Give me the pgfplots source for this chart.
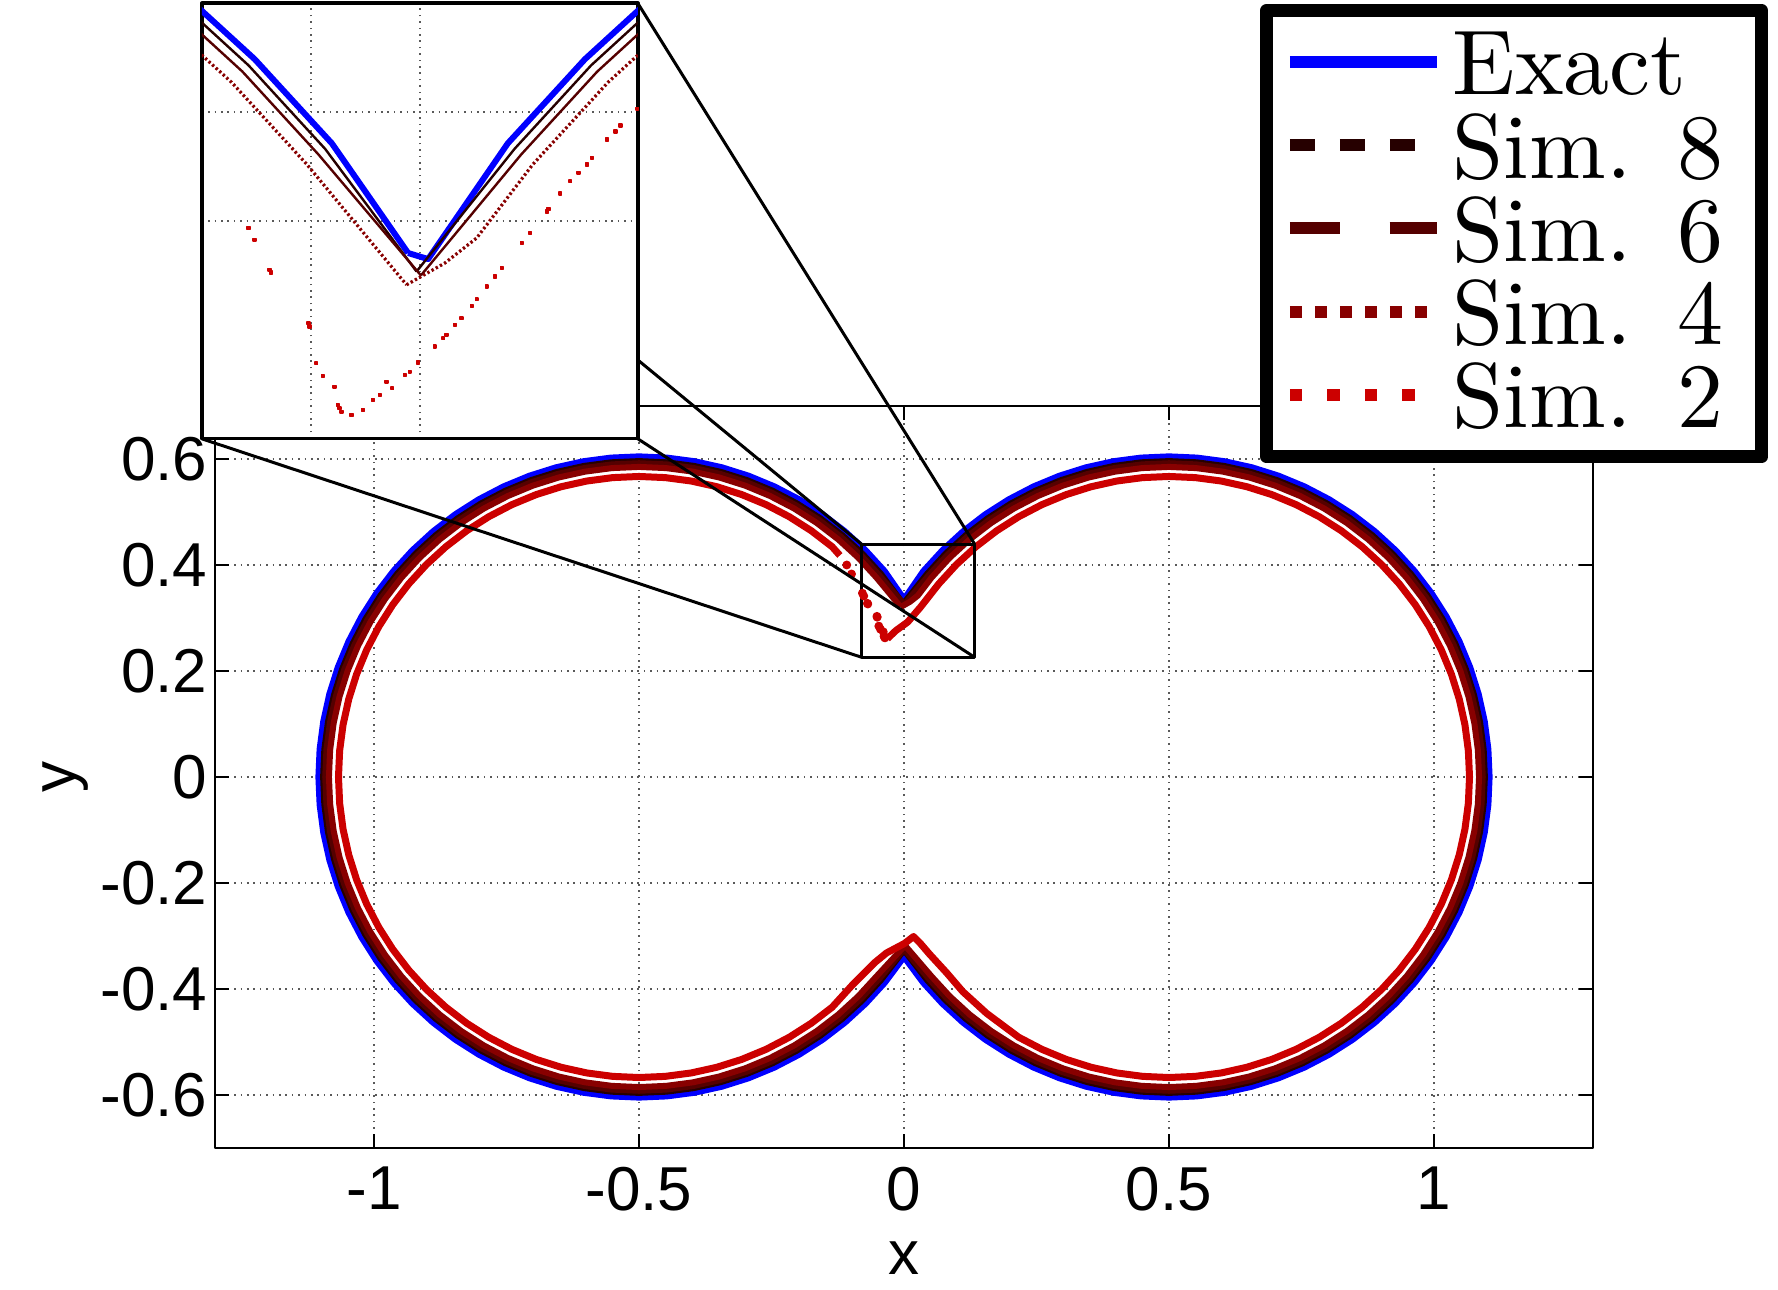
\documentclass[border=0pt]{standalone}
\usepackage{fontspec}
\setsansfont{Liberation Sans}
\newfontfamily\lmten{lmroman10-regular.otf}
\usepackage{pgfplots}
\usepackage{pgfplotstable}
\pgfplotsset{compat=1.18}
\definecolor{cEx}{RGB}{0,0,255}
\definecolor{cS8}{RGB}{38,0,0}
\definecolor{cS6}{RGB}{85,0,0}
\definecolor{cS4}{RGB}{136,0,0}
\definecolor{cS2}{RGB}{204,0,0}
\newcommand{\tlfont}{\sffamily\fontsize{15.5}{15.5}\selectfont}
\newcommand{\lgfont}{\lmten\fontsize{23}{23}\selectfont}

\pgfplotstableread[row sep=\\]{x y\\
-0.0054 0.3353\\ 0.0038 0.3325\\
0.04038 0.38567\\ 0.07573 0.42427\\ 0.11433 0.45962\\ 0.15585 0.49149\\ 0.2 0.51962\\ 0.24643 0.54379\\ 0.29479 0.56381\\ 0.34471 0.57956\\ 0.39581 0.59089\\ 0.44770 0.59771\\ 0.5 0.6\\ 0.55230 0.59771\\ 0.60419 0.59089\\ 0.65529 0.57956\\ 0.70521 0.56381\\ 0.75357 0.54379\\ 0.8 0.51962\\ 0.84415 0.49149\\ 0.88567 0.45962\\ 0.92427 0.42427\\ 0.95962 0.38567\\ 0.99149 0.34415\\ 1.01962 0.3\\ 1.04379 0.25357\\ 1.06381 0.20521\\ 1.07956 0.15529\\ 1.09089 0.10419\\ 1.09771 0.05230\\ 1.1 0\\
1.09771 -0.05230\\ 1.09089 -0.10419\\ 1.07956 -0.15529\\ 1.06381 -0.20521\\ 1.04379 -0.25357\\ 1.01962 -0.3\\ 0.99149 -0.34415\\ 0.95962 -0.38567\\ 0.92427 -0.42427\\ 0.88567 -0.45962\\ 0.84415 -0.49149\\ 0.8 -0.51962\\ 0.75357 -0.54379\\ 0.70521 -0.56381\\ 0.65529 -0.57956\\ 0.60419 -0.59089\\ 0.55230 -0.59771\\ 0.5 -0.6\\ 0.44770 -0.59771\\ 0.39581 -0.59089\\ 0.34471 -0.57956\\ 0.29479 -0.56381\\ 0.24643 -0.54379\\ 0.2 -0.51962\\ 0.15585 -0.49149\\ 0.11433 -0.45962\\ 0.07573 -0.42427\\ 0.04038 -0.38567\\
0 -0.33166\\
-0.04038 -0.38567\\ -0.07573 -0.42427\\ -0.11433 -0.45962\\ -0.15585 -0.49149\\ -0.2 -0.51962\\ -0.24643 -0.54379\\ -0.29479 -0.56381\\ -0.34471 -0.57956\\ -0.39581 -0.59089\\ -0.44770 -0.59771\\ -0.5 -0.6\\ -0.55230 -0.59771\\ -0.60419 -0.59089\\ -0.65529 -0.57956\\ -0.70521 -0.56381\\ -0.75357 -0.54379\\ -0.8 -0.51962\\ -0.84415 -0.49149\\ -0.88567 -0.45962\\ -0.92427 -0.42427\\ -0.95962 -0.38567\\ -0.99149 -0.34415\\ -1.01962 -0.3\\ -1.04379 -0.25357\\ -1.06381 -0.20521\\ -1.07956 -0.15529\\ -1.09089 -0.10419\\ -1.09771 -0.05230\\ -1.1 0\\
-1.09771 0.05230\\ -1.09089 0.10419\\ -1.07956 0.15529\\ -1.06381 0.20521\\ -1.04379 0.25357\\ -1.01962 0.3\\ -0.99149 0.34415\\ -0.95962 0.38567\\ -0.92427 0.42427\\ -0.88567 0.45962\\ -0.84415 0.49149\\ -0.8 0.51962\\ -0.75357 0.54379\\ -0.70521 0.56381\\ -0.65529 0.57956\\ -0.60419 0.59089\\ -0.55230 0.59771\\ -0.5 0.6\\ -0.44770 0.59771\\ -0.39581 0.59089\\ -0.34471 0.57956\\ -0.29479 0.56381\\ -0.24643 0.54379\\ -0.2 0.51962\\ -0.15585 0.49149\\ -0.11433 0.45962\\ -0.07573 0.42427\\ -0.04038 0.38567\\ -0.0054 0.3353\\
}\tabExact

\pgfplotstableread[row sep=\\]{x y\\
-0.0015 0.3268\\
0.04344 0.38310\\ 0.07856 0.42144\\ 0.11690 0.45656\\ 0.15815 0.48821\\ 0.202 0.51615\\ 0.24812 0.54016\\ 0.29616 0.56006\\ 0.34574 0.57569\\ 0.39650 0.58695\\ 0.44805 0.59373\\ 0.5 0.596\\ 0.55195 0.59373\\ 0.60350 0.58695\\ 0.65426 0.57569\\ 0.70384 0.56006\\ 0.75188 0.54016\\ 0.798 0.51615\\ 0.84185 0.48821\\ 0.88310 0.45656\\ 0.92144 0.42144\\ 0.95656 0.38310\\ 0.98821 0.34185\\ 1.01615 0.298\\ 1.04016 0.25188\\ 1.06006 0.20384\\ 1.07569 0.15426\\ 1.08695 0.10350\\ 1.09373 0.05195\\ 1.096 0\\
1.09373 -0.05195\\ 1.08695 -0.10350\\ 1.07569 -0.15426\\ 1.06006 -0.20384\\ 1.04016 -0.25188\\ 1.01615 -0.298\\ 0.98821 -0.34185\\ 0.95656 -0.38310\\ 0.92144 -0.42144\\ 0.88310 -0.45656\\ 0.84185 -0.48821\\ 0.798 -0.51615\\ 0.75188 -0.54016\\ 0.70384 -0.56006\\ 0.65426 -0.57569\\ 0.60350 -0.58695\\ 0.55195 -0.59373\\ 0.5 -0.596\\ 0.44805 -0.59373\\ 0.39650 -0.58695\\ 0.34574 -0.57569\\ 0.29616 -0.56006\\ 0.24812 -0.54016\\ 0.202 -0.51615\\ 0.15815 -0.48821\\ 0.11690 -0.45656\\ 0.07856 -0.42144\\ 0.04344 -0.38310\\
0 -0.3268\\
-0.04344 -0.38310\\ -0.07856 -0.42144\\ -0.11690 -0.45656\\ -0.15815 -0.48821\\ -0.202 -0.51615\\ -0.24812 -0.54016\\ -0.29616 -0.56006\\ -0.34574 -0.57569\\ -0.39650 -0.58695\\ -0.44805 -0.59373\\ -0.5 -0.596\\ -0.55195 -0.59373\\ -0.60350 -0.58695\\ -0.65426 -0.57569\\ -0.70384 -0.56006\\ -0.75188 -0.54016\\ -0.798 -0.51615\\ -0.84185 -0.48821\\ -0.88310 -0.45656\\ -0.92144 -0.42144\\ -0.95656 -0.38310\\ -0.98821 -0.34185\\ -1.01615 -0.298\\ -1.04016 -0.25188\\ -1.06006 -0.20384\\ -1.07569 -0.15426\\ -1.08695 -0.10350\\ -1.09373 -0.05195\\ -1.096 0\\
-1.09373 0.05195\\ -1.08695 0.10350\\ -1.07569 0.15426\\ -1.06006 0.20384\\ -1.04016 0.25188\\ -1.01615 0.298\\ -0.98821 0.34185\\ -0.95656 0.38310\\ -0.92144 0.42144\\ -0.88310 0.45656\\ -0.84185 0.48821\\ -0.798 0.51615\\ -0.75188 0.54016\\ -0.70384 0.56006\\ -0.65426 0.57569\\ -0.60350 0.58695\\ -0.55195 0.59373\\ -0.5 0.596\\ -0.44805 0.59373\\ -0.39650 0.58695\\ -0.34574 0.57569\\ -0.29616 0.56006\\ -0.24812 0.54016\\ -0.202 0.51615\\ -0.15815 0.48821\\ -0.11690 0.45656\\ -0.07856 0.42144\\ -0.04344 0.38310\\ -0.0015 0.3268\\
}\tabSimEight

\pgfplotstableread[row sep=\\]{x y\\
0.0005 0.325\\
0.04650 0.38053\\ 0.08139 0.41861\\ 0.11947 0.45350\\ 0.16044 0.48494\\ 0.204 0.51269\\ 0.24981 0.53654\\ 0.29752 0.55630\\ 0.34678 0.57183\\ 0.39720 0.58301\\ 0.44840 0.58974\\ 0.5 0.592\\ 0.55160 0.58974\\ 0.60280 0.58301\\ 0.65322 0.57183\\ 0.70248 0.55630\\ 0.75019 0.53654\\ 0.796 0.51269\\ 0.83956 0.48494\\ 0.88053 0.45350\\ 0.91861 0.41861\\ 0.95350 0.38053\\ 0.98494 0.33956\\ 1.01269 0.296\\ 1.03654 0.25019\\ 1.05630 0.20248\\ 1.07183 0.15322\\ 1.08301 0.10280\\ 1.08974 0.05160\\ 1.092 0\\
1.08974 -0.05160\\ 1.08301 -0.10280\\ 1.07183 -0.15322\\ 1.05630 -0.20248\\ 1.03654 -0.25019\\ 1.01269 -0.296\\ 0.98494 -0.33956\\ 0.95350 -0.38053\\ 0.91861 -0.41861\\ 0.88053 -0.45350\\ 0.83956 -0.48494\\ 0.796 -0.51269\\ 0.75019 -0.53654\\ 0.70248 -0.55630\\ 0.65322 -0.57183\\ 0.60280 -0.58301\\ 0.55160 -0.58974\\ 0.5 -0.592\\ 0.44840 -0.58974\\ 0.39720 -0.58301\\ 0.34678 -0.57183\\ 0.29752 -0.55630\\ 0.24981 -0.53654\\ 0.204 -0.51269\\ 0.16044 -0.48494\\ 0.11947 -0.45350\\ 0.08139 -0.41861\\ 0.04650 -0.38053\\
0 -0.325\\
-0.04650 -0.38053\\ -0.08139 -0.41861\\ -0.11947 -0.45350\\ -0.16044 -0.48494\\ -0.204 -0.51269\\ -0.24981 -0.53654\\ -0.29752 -0.55630\\ -0.34678 -0.57183\\ -0.39720 -0.58301\\ -0.44840 -0.58974\\ -0.5 -0.592\\ -0.55160 -0.58974\\ -0.60280 -0.58301\\ -0.65322 -0.57183\\ -0.70248 -0.55630\\ -0.75019 -0.53654\\ -0.796 -0.51269\\ -0.83956 -0.48494\\ -0.88053 -0.45350\\ -0.91861 -0.41861\\ -0.95350 -0.38053\\ -0.98494 -0.33956\\ -1.01269 -0.296\\ -1.03654 -0.25019\\ -1.05630 -0.20248\\ -1.07183 -0.15322\\ -1.08301 -0.10280\\ -1.08974 -0.05160\\ -1.092 0\\
-1.08974 0.05160\\ -1.08301 0.10280\\ -1.07183 0.15322\\ -1.05630 0.20248\\ -1.03654 0.25019\\ -1.01269 0.296\\ -0.98494 0.33956\\ -0.95350 0.38053\\ -0.91861 0.41861\\ -0.88053 0.45350\\ -0.83956 0.48494\\ -0.796 0.51269\\ -0.75019 0.53654\\ -0.70248 0.55630\\ -0.65322 0.57183\\ -0.60280 0.58301\\ -0.55160 0.58974\\ -0.5 0.592\\ -0.44840 0.58974\\ -0.39720 0.58301\\ -0.34678 0.57183\\ -0.29752 0.55630\\ -0.24981 0.53654\\ -0.204 0.51269\\ -0.16044 0.48494\\ -0.11947 0.45350\\ -0.08139 0.41861\\ -0.04650 0.38053\\ 0.0005 0.325\\
}\tabSimSix

\pgfplotstableread[row sep=\\]{x y\\
-0.0061 0.3207\\ 0.0115 0.3307\\ 0.0261 0.3422\\
0.05187 0.37603\\ 0.08634 0.41366\\ 0.12397 0.44813\\ 0.16446 0.47920\\ 0.2075 0.50663\\ 0.25277 0.53019\\ 0.29992 0.54972\\ 0.34859 0.56507\\ 0.39841 0.57611\\ 0.44901 0.58277\\ 0.5 0.585\\ 0.55099 0.58277\\ 0.60159 0.57611\\ 0.65141 0.56507\\ 0.70008 0.54972\\ 0.74723 0.53019\\ 0.7925 0.50663\\ 0.83554 0.47920\\ 0.87603 0.44813\\ 0.91366 0.41366\\ 0.94813 0.37603\\ 0.97920 0.33554\\ 1.00663 0.2925\\ 1.03019 0.24723\\ 1.04972 0.20008\\ 1.06507 0.15141\\ 1.07611 0.10159\\ 1.08277 0.05099\\ 1.085 0\\
1.08277 -0.05099\\ 1.07611 -0.10159\\ 1.06507 -0.15141\\ 1.04972 -0.20008\\ 1.03019 -0.24723\\ 1.00663 -0.2925\\ 0.97920 -0.33554\\ 0.94813 -0.37603\\ 0.91366 -0.41366\\ 0.87603 -0.44813\\ 0.83554 -0.47920\\ 0.7925 -0.50663\\ 0.74723 -0.53019\\ 0.70008 -0.54972\\ 0.65141 -0.56507\\ 0.60159 -0.57611\\ 0.55099 -0.58277\\ 0.5 -0.585\\ 0.44901 -0.58277\\ 0.39841 -0.57611\\ 0.34859 -0.56507\\ 0.29992 -0.54972\\ 0.25277 -0.53019\\ 0.2075 -0.50663\\ 0.16446 -0.47920\\ 0.12397 -0.44813\\ 0.08634 -0.41366\\ 0.05187 -0.37603\\
0.002 -0.318\\
-0.05187 -0.37603\\ -0.08634 -0.41366\\ -0.12397 -0.44813\\ -0.16446 -0.47920\\ -0.2075 -0.50663\\ -0.25277 -0.53019\\ -0.29992 -0.54972\\ -0.34859 -0.56507\\ -0.39841 -0.57611\\ -0.44901 -0.58277\\ -0.5 -0.585\\ -0.55099 -0.58277\\ -0.60159 -0.57611\\ -0.65141 -0.56507\\ -0.70008 -0.54972\\ -0.74723 -0.53019\\ -0.7925 -0.50663\\ -0.83554 -0.47920\\ -0.87603 -0.44813\\ -0.91366 -0.41366\\ -0.94813 -0.37603\\ -0.97920 -0.33554\\ -1.00663 -0.2925\\ -1.03019 -0.24723\\ -1.04972 -0.20008\\ -1.06507 -0.15141\\ -1.07611 -0.10159\\ -1.08277 -0.05099\\ -1.085 0\\
-1.08277 0.05099\\ -1.07611 0.10159\\ -1.06507 0.15141\\ -1.04972 0.20008\\ -1.03019 0.24723\\ -1.00663 0.2925\\ -0.97920 0.33554\\ -0.94813 0.37603\\ -0.91366 0.41366\\ -0.87603 0.44813\\ -0.83554 0.47920\\ -0.7925 0.50663\\ -0.74723 0.53019\\ -0.70008 0.54972\\ -0.65141 0.56507\\ -0.60159 0.57611\\ -0.55099 0.58277\\ -0.5 0.585\\ -0.44901 0.58277\\ -0.39841 0.57611\\ -0.34859 0.56507\\ -0.29992 0.54972\\ -0.25277 0.53019\\ -0.2075 0.50663\\ -0.16446 0.47920\\ -0.12397 0.44813\\ -0.08634 0.41366\\ -0.05187 0.37603\\ -0.0061 0.3207\\
}\tabSimFour

\pgfplotstableread[row sep=\\]{x y\\
-0.0314 0.2609\\ -0.0153 0.2762\\ 0.0069 0.2923\\ 0.0307 0.3199\\
0.06566 0.36446\\ 0.09907 0.40093\\ 0.13554 0.43434\\ 0.17478 0.46446\\ 0.2165 0.49104\\ 0.26037 0.51388\\ 0.30607 0.53280\\ 0.35325 0.54768\\ 0.40154 0.55839\\ 0.45058 0.56484\\ 0.5 0.567\\ 0.54942 0.56484\\ 0.59846 0.55839\\ 0.64675 0.54768\\ 0.69393 0.53280\\ 0.73963 0.51388\\ 0.7835 0.49104\\ 0.82522 0.46446\\ 0.86446 0.43434\\ 0.90093 0.40093\\ 0.93434 0.36446\\ 0.96446 0.32522\\ 0.99104 0.2835\\ 1.01388 0.23963\\ 1.0328 0.19393\\ 1.04768 0.14675\\ 1.05839 0.09846\\ 1.06484 0.04942\\ 1.067 0\\
1.06484 -0.04942\\ 1.05839 -0.09846\\ 1.04768 -0.14675\\ 1.0328 -0.19393\\ 1.01388 -0.23963\\ 0.99104 -0.2835\\ 0.96446 -0.32522\\ 0.93434 -0.36446\\ 0.90093 -0.40093\\ 0.86446 -0.43434\\ 0.82522 -0.46446\\ 0.7835 -0.49104\\ 0.73963 -0.51388\\ 0.69393 -0.53280\\ 0.64675 -0.54768\\ 0.59846 -0.55839\\ 0.54942 -0.56484\\ 0.5 -0.567\\ 0.45058 -0.56484\\ 0.40154 -0.55839\\ 0.35325 -0.54768\\ 0.30607 -0.53280\\ 0.26037 -0.51388\\ 0.2165 -0.49104\\
0.156 -0.446\\ 0.111 -0.405\\ 0.081 -0.370\\ 0.048 -0.334\\ 0.030 -0.313\\ 0.018 -0.301\\ 0.001 -0.314\\ -0.033 -0.332\\ -0.055 -0.350\\ -0.097 -0.392\\
-0.13554 -0.43434\\ -0.17478 -0.46446\\ -0.2165 -0.49104\\ -0.26037 -0.51388\\ -0.30607 -0.53280\\ -0.35325 -0.54768\\ -0.40154 -0.55839\\ -0.45058 -0.56484\\ -0.5 -0.567\\ -0.54942 -0.56484\\ -0.59846 -0.55839\\ -0.64675 -0.54768\\ -0.69393 -0.53280\\ -0.73963 -0.51388\\ -0.7835 -0.49104\\ -0.82522 -0.46446\\ -0.86446 -0.43434\\ -0.90093 -0.40093\\ -0.93434 -0.36446\\ -0.96446 -0.32522\\ -0.99104 -0.2835\\ -1.01388 -0.23963\\ -1.0328 -0.19393\\ -1.04768 -0.14675\\ -1.05839 -0.09846\\ -1.06484 -0.04942\\ -1.067 0\\
-1.06484 0.04942\\ -1.05839 0.09846\\ -1.04768 0.14675\\ -1.0328 0.19393\\ -1.01388 0.23963\\ -0.99104 0.2835\\ -0.96446 0.32522\\ -0.93434 0.36446\\ -0.90093 0.40093\\ -0.86446 0.43434\\ -0.82522 0.46446\\ -0.7835 0.49104\\ -0.73963 0.51388\\ -0.69393 0.53280\\ -0.64675 0.54768\\ -0.59846 0.55839\\ -0.54942 0.56484\\ -0.5 0.567\\ -0.45058 0.56484\\ -0.40154 0.55839\\ -0.35325 0.54768\\ -0.30607 0.53280\\ -0.26037 0.51388\\ -0.2165 0.49104\\ -0.17478 0.46446\\ -0.13554 0.43434\\ -0.121 0.418\\
}\tabSimTwo

\pgfplotstableread[row sep=\\]{x y\\
-0.108 0.400\\ -0.099 0.383\\ -0.0785 0.3468\\ -0.0759 0.3414\\ -0.0690 0.3276\\ -0.0683 0.3264\\ -0.0511 0.3031\\ -0.0506 0.3015\\ -0.0475 0.2847\\ -0.0445 0.2788\\ -0.0391 0.2739\\ -0.0376 0.2655\\ -0.0368 0.2640\\ -0.0360 0.2624\\
}\tabSimTwoDots

\pgfplotstableread[row sep=\\]{x y\\
-0.0785 0.3468\\ -0.0759 0.3414\\ -0.0690 0.3276\\ -0.0683 0.3264\\ -0.0511 0.3031\\ -0.0506 0.3015\\ -0.0475 0.2847\\ -0.0445 0.2788\\ -0.0391 0.2739\\ -0.0376 0.2655\\ -0.0368 0.2640\\ -0.0360 0.2624\\ -0.0314 0.2609\\ -0.0261 0.2632\\ -0.0215 0.2678\\ -0.0184 0.2701\\ -0.0153 0.2762\\ -0.0127 0.2732\\ -0.0069 0.2793\\ -0.0046 0.2808\\ -0.0008 0.2850\\ 0.0069 0.2923\\ 0.0107 0.2962\\ 0.0123 0.2977\\ 0.0161 0.3023\\ 0.0192 0.3054\\ 0.0238 0.3110\\ 0.0261 0.3141\\ 0.0307 0.3199\\ 0.0345 0.3245\\ 0.0376 0.3284\\ 0.0468 0.3399\\ 0.0506 0.3445\\ 0.0583 0.3544\\ 0.0590 0.3555\\ 0.0644 0.3626\\ 0.0690 0.3683\\ 0.0728 0.3721\\ 0.0767 0.3759\\ 0.0790 0.3790\\ 0.0859 0.3874\\ 0.0897 0.3910\\ 0.0920 0.3939\\ 0.0997 0.4015\\
}\tabSimTwoZoom

\begin{document}
\begin{tikzpicture}
\begin{axis}[
  name=main,
  scale only axis, width=344.5pt, height=185.5pt,
  xmin=-1.3, xmax=1.3, ymin=-0.7, ymax=0.7,
  xtick={-1,-0.5,0,0.5,1}, xticklabels={-1,-0.5,0,0.5,1},
  ytick={-0.6,-0.4,-0.2,0,0.2,0.4,0.6},
  yticklabels={-0.6,-0.4,-0.2,0,0.2,0.4,0.6},
  tick label style={font=\tlfont},
  yticklabel style={xshift=1.6pt},
  xticklabel style={yshift=-1.2pt},
  grid=major,
  grid style={gray!70!black, line width=0.4pt, dash pattern=on 0.4pt off 1.2pt},
  major tick length=3.5pt,
  tick style={black, line width=0.5pt},
  axis line style={line width=0.5pt},
  xlabel={x}, ylabel={y},
  every axis x label/.style={at={(axis description cs:0.5,0)}, anchor=base, yshift=-31.5pt, font=\tlfont},
  every axis y label/.style={at={(axis description cs:-0.10087,0.5)}, rotate=90, anchor=base, font=\tlfont},
  legend cell align=left,
  legend image code/.code={\draw[#1] (0pt,1.3pt) -- (36.7pt,1.3pt);},
  legend style={at={(1.127,1.5418)}, anchor=north east, draw=black, fill=white,
    line width=3.25pt, inner xsep=4.3pt, inner ysep=3.8pt, column sep=2.5pt, row sep=0pt,
    font=\lgfont,
    nodes={inner sep=0pt, text height=17.3pt, text depth=3.5pt, text width=72.9pt, align=left}},
  line join=round,
]
\addplot[cEx, line width=2.8pt, forget plot] table[x=x,y=y] {\tabExact};
\addplot[cS8, line width=1.5pt, forget plot] table[x=x,y=y] {\tabSimEight};
\addplot[cS6, line width=1.5pt, forget plot] table[x=x,y=y] {\tabSimSix};
\addplot[cS4, line width=1.5pt, forget plot] table[x=x,y=y] {\tabSimFour};
\addplot[cS2, line width=1.75pt, forget plot] table[x=x,y=y] {\tabSimTwo};
\addplot[cS2, only marks, mark=*, mark size=0.9pt, forget plot] table[x=x,y=y] {\tabSimTwoDots};

\addlegendimage{cEx, line width=3pt}
\addlegendentry{Exact}
\addlegendimage{cS8, line width=3pt, dash pattern=on 6.25pt off 6.25pt}
\addlegendentry{Sim. 8}
\addlegendimage{cS6, line width=3pt, dash pattern=on 12.4pt off 12.5pt}
\addlegendentry{Sim. 6}
\addlegendimage{cS4, line width=3pt, dash pattern=on 3.1pt off 3.15pt}
\addlegendentry{Sim. 4}
\addlegendimage{cS2, line width=3pt, dash pattern=on 3.1pt off 6.27pt}
\addlegendentry{Sim. 2}

\draw[black, line width=0.85pt] (axis cs:-0.0798,0.2258) rectangle (axis cs:0.1334,0.4391);
\coordinate (zTL) at (axis cs:-0.0798,0.4391);
\coordinate (zTR) at (axis cs:0.1334,0.4391);
\coordinate (zBL) at (axis cs:-0.0798,0.2258);
\coordinate (zBR) at (axis cs:0.1334,0.2258);
\end{axis}

\begin{axis}[
  name=inset,
  at={(-3.3pt,177.3pt)}, anchor=south west,
  scale only axis, width=109pt, height=108.9pt,
  xmin=-0.1, xmax=0.1, ymin=0.25, ymax=0.45,
  xtick={-0.05,0}, ytick={0.35,0.4},
  xticklabels={}, yticklabels={},
  major tick length=0pt,
  grid=major,
  grid style={gray!70!black, line width=0.4pt, dash pattern=on 0.4pt off 1.2pt},
  axis line style={line width=0.85pt},
  axis background/.style={fill=white},
  line join=round,
]
\addplot[cEx, line width=1.5pt] table[x=x,y=y] {\tabExact};
\addplot[cS8, line width=0.6pt] table[x=x,y=y] {\tabSimEight};
\addplot[cS6, line width=0.6pt] table[x=x,y=y] {\tabSimSix};
\addplot[cS4, line width=0.8pt, dash pattern=on 0.6pt off 0.6pt] table[x=x,y=y] {\tabSimFour};
\addplot[cS2, only marks, mark=square*, mark size=0.35pt] table[x=x,y=y] {\tabSimTwoZoom};
\coordinate (iR) at (rel axis cs:1,0.181);
\end{axis}

\draw[black, line width=0.75pt] (inset.north east) -- (zTR);
\draw[black, line width=0.75pt] (iR) -- (zTL);
\draw[black, line width=0.75pt] (inset.south east) -- (zBR);
\draw[black, line width=0.75pt] (inset.south west) -- (zBL);

\pgfresetboundingbox
\useasboundingbox (-53.75pt,-35.25pt) rectangle (390.75pt,287pt);
\end{tikzpicture}
\end{document}
